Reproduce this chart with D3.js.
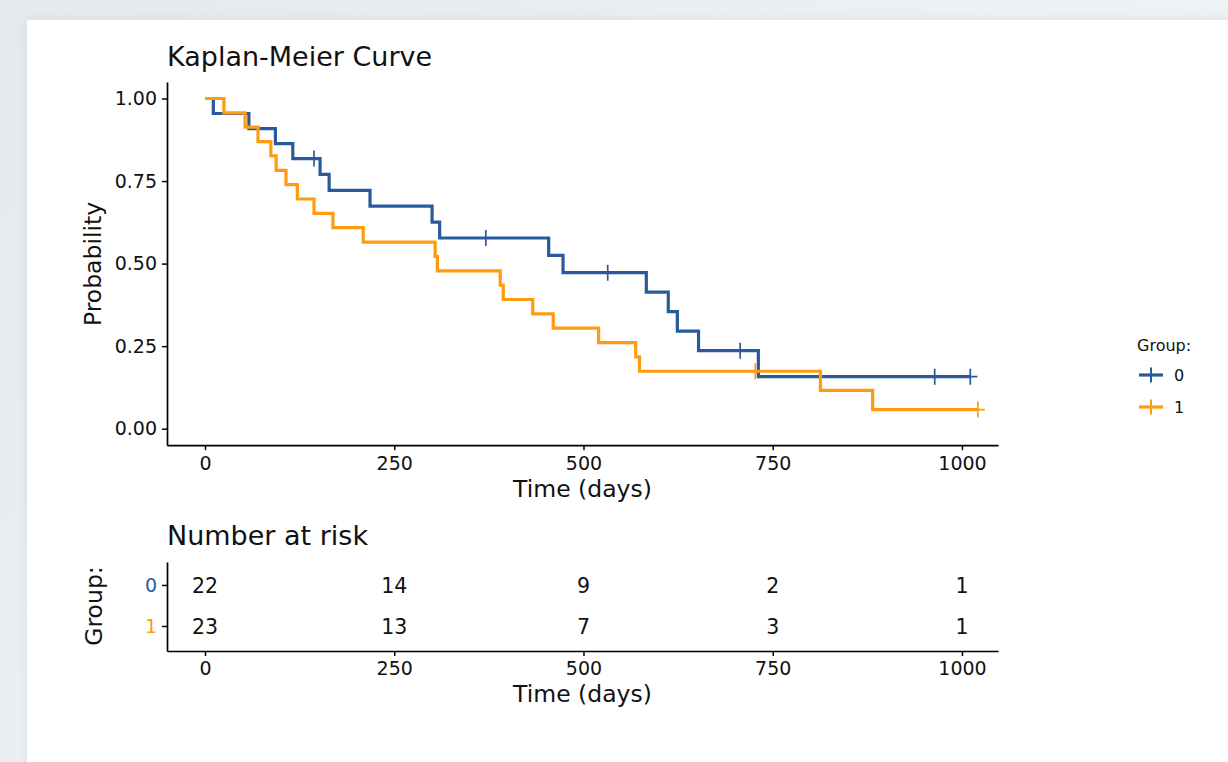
<!DOCTYPE html>
<html>
<head>
<meta charset="utf-8">
<script src="https://cdn.jsdelivr.net/npm/d3@7"></script>
<style>
  html, body { margin: 0; padding: 0; }
  body { width: 1228px; height: 762px; overflow: hidden; background: linear-gradient(135deg, #e3e9ec 0%, #eef2f4 60%, #eaeff2 100%); position: relative; font-family: "DejaVu Sans", sans-serif; }
  #card { position: absolute; left: 27px; top: 20px; width: 1220px; height: 760px; background: #ffffff; box-shadow: 0 0 10px rgba(0,0,0,0.07); }
  svg { position: absolute; left: 0; top: 0; }
</style>
</head>
<body>
<div id="card"></div>
<svg id="chart" width="1228" height="762" font-family="DejaVu Sans"></svg>
<script>
// ---- Data ----
const groups = ["0", "1"];
const groupColors = ["#2a5a9c", "#ff9b0f"];
const group0Times  = [11, 58, 93, 116, 144, 152, 164, 218, 300, 310, 371, 454, 473, 532, 583, 612, 624, 652, 707, 731, 964, 1011];
const group0Status = [1,  1,  1,  1,   0,   1,   1,   1,   1,   1,   0,   1,   1,   0,   1,   1,   1,   1,   0,   1,   0,   0];
const group1Times  = [25, 53, 70, 87, 94, 107, 122, 144, 169, 209, 304, 307, 390, 394, 433, 460, 520, 569, 574, 727, 813, 882, 1021];
const group1Status = [1,  1,  1,  1,  1,  1,   1,   1,   1,   1,   1,   1,   1,   1,   1,   1,   1,   1,   1,   0,   1,   1,   0];
const xTicks = [0, 250, 500, 750, 1000];
const yTicks = [0, 0.25, 0.5, 0.75, 1.0];
const riskTimes = [0, 250, 500, 750, 1000];
const risk0 = [22, 14, 9, 2, 1];
const risk1 = [23, 13, 7, 3, 1];

// ---- Kaplan-Meier estimate from times/status ----
function km(times, status) {
  const obs = times.map((t, i) => ({ t, e: status[i] })).sort((a, b) => a.t - b.t);
  let n = obs.length, s = 1;
  const steps = [{ t: 0, s: 1 }], censors = [];
  const uniq = Array.from(new Set(obs.map(o => o.t)));
  uniq.forEach(t => {
    const at = obs.filter(o => o.t === t);
    const d = at.filter(o => o.e === 1).length;
    const c = at.length - d;
    if (d > 0) { s = s * (n - d) / n; steps.push({ t, s }); }
    if (c > 0) censors.push({ t, s });
    n -= at.length;
  });
  const tMax = obs[obs.length - 1].t;
  steps.push({ t: tMax, s });
  return { steps, censors };
}
const curves = [km(group0Times, group0Status), km(group1Times, group1Status)];

const svg = d3.select("#chart");

function styleAxis(g) {
  g.attr("font-family", "DejaVu Sans");
  g.selectAll("path.domain").attr("stroke", "#000").attr("stroke-width", 1.7);
  g.selectAll(".tick line").attr("stroke", "#000").attr("stroke-width", 1.5);
  g.selectAll(".tick text").attr("font-size", 19).attr("fill", "#111");
}

// ---- Main KM plot ----
const x = d3.scaleLinear().domain([-50.2, 1047.6]).range([167, 998]);
const y = d3.scaleLinear().domain([-0.05, 1.05]).range([445.2, 82]);

const gx = svg.append("g").attr("transform", "translate(0,445.2)")
  .call(d3.axisBottom(x).tickValues(xTicks).tickSize(5).tickPadding(6).tickSizeOuter(0).tickFormat(d3.format("d")));
const gy = svg.append("g").attr("transform", "translate(167,0)")
  .call(d3.axisLeft(y).tickValues(yTicks).tickSize(5).tickPadding(5).tickSizeOuter(0).tickFormat(d3.format(".2f")));
styleAxis(gx); styleAxis(gy);

const line = d3.line().x(d => x(d.t)).y(d => y(d.s)).curve(d3.curveStepAfter);
const plot = svg.append("g");
curves.forEach((c, i) => {
  plot.append("path").datum(c.steps).attr("d", line)
    .attr("fill", "none").attr("stroke", groupColors[i]).attr("stroke-width", 3.2);
});
curves.forEach((c, i) => {
  plot.selectAll(null).data(c.censors).enter().append("path")
    .attr("d", d => { const cx = x(d.t), cy = y(d.s); return `M${cx - 7},${cy}H${cx + 7}M${cx},${cy - 8}V${cy + 8}`; })
    .attr("stroke", groupColors[i]).attr("stroke-width", 1.7).attr("fill", "none");
});

svg.append("text").attr("x", 167).attr("y", 66).attr("font-size", 27).attr("fill", "#111").text("Kaplan-Meier Curve");
svg.append("text").attr("x", 582.5).attr("y", 497).attr("text-anchor", "middle").attr("font-size", 23.5).attr("fill", "#111").text("Time (days)");
svg.append("text").attr("transform", "translate(101,264) rotate(-90)").attr("text-anchor", "middle").attr("font-size", 23.5).attr("fill", "#111").text("Probability");

// ---- Legend ----
const leg = svg.append("g");
leg.append("text").attr("x", 1137).attr("y", 351).attr("font-size", 16).attr("fill", "#111").text("Group:");
groups.forEach((g, i) => {
  const cy = 375 + i * 32;
  leg.append("path").attr("d", `M1139,${cy}H1163`).attr("stroke", groupColors[i]).attr("stroke-width", 3.2);
  leg.append("path").attr("d", `M1151,${cy - 7.5}V${cy + 7.5}`).attr("stroke", groupColors[i]).attr("stroke-width", 2);
  leg.append("text").attr("x", 1174).attr("y", cy + 6).attr("font-size", 16).attr("fill", "#111").text(g);
});

// ---- Number at risk table ----
svg.append("text").attr("x", 167).attr("y", 545).attr("font-size", 27).attr("fill", "#111").text("Number at risk");
const ry = d3.scaleLinear().domain([-0.56, 1.61]).range([562, 651]);
const rgx = svg.append("g").attr("transform", "translate(0,651)")
  .call(d3.axisBottom(x).tickValues(xTicks).tickSize(5).tickPadding(6).tickSizeOuter(0).tickFormat(d3.format("d")));
const rgy = svg.append("g").attr("transform", "translate(167,0)")
  .call(d3.axisLeft(ry).tickValues([0, 1]).tickSize(5).tickPadding(5).tickSizeOuter(0).tickFormat(i => groups[i]));
styleAxis(rgx); styleAxis(rgy);
rgy.selectAll(".tick").select("text").attr("fill", d => groupColors[d]);

[risk0, risk1].forEach((arr, gi) => {
  svg.selectAll(null).data(arr).enter().append("text")
    .attr("x", (d, i) => x(riskTimes[i])).attr("y", ry(gi)).attr("dy", "0.38em")
    .attr("text-anchor", "middle").attr("font-size", 20.5).attr("fill", "#111").text(d => d);
});
svg.append("text").attr("x", 582.5).attr("y", 702).attr("text-anchor", "middle").attr("font-size", 23.5).attr("fill", "#111").text("Time (days)");
svg.append("text").attr("transform", "translate(102,606) rotate(-90)").attr("text-anchor", "middle").attr("font-size", 23.5).attr("fill", "#111").text("Group:");
</script>
</body>
</html>
